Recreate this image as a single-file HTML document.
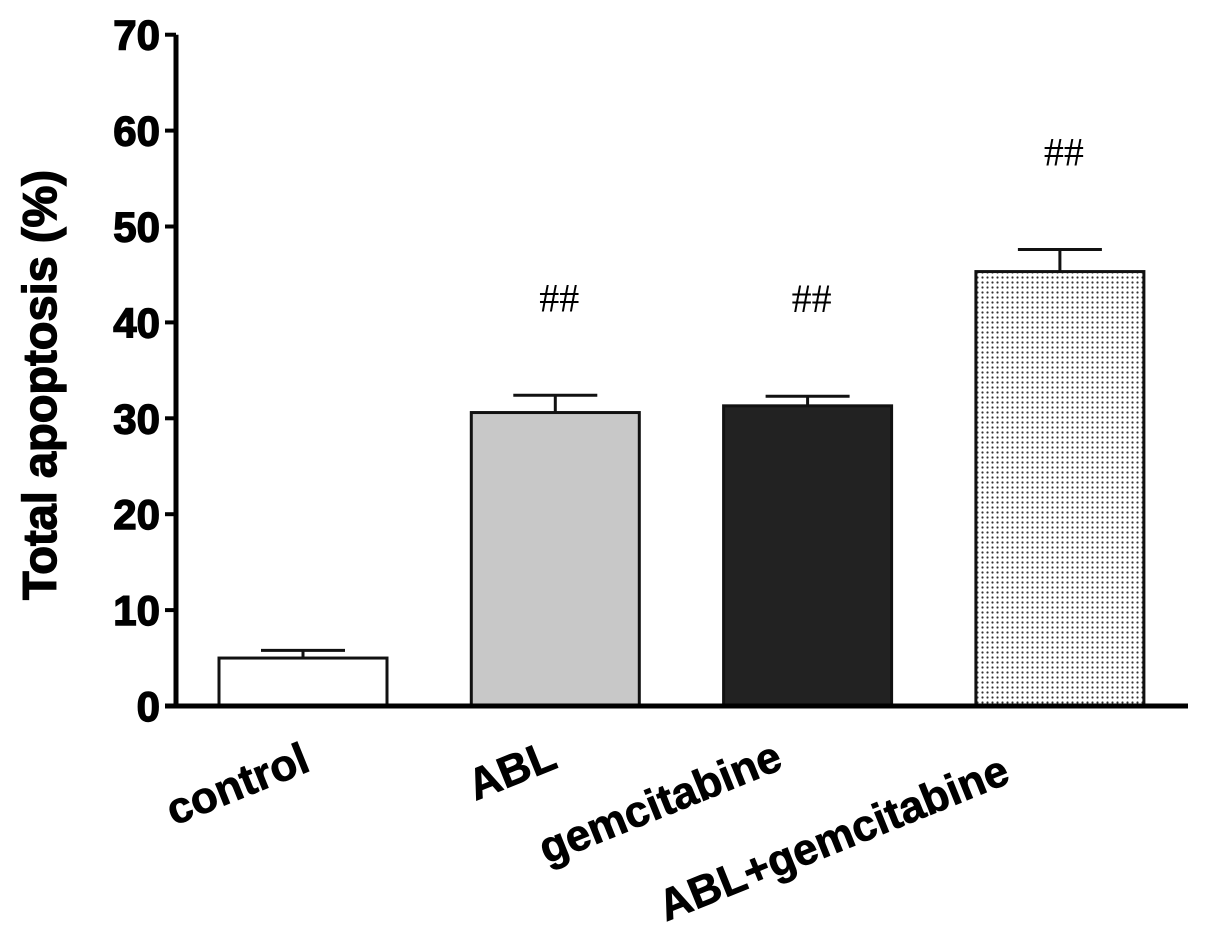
<!DOCTYPE html>
<html><head><meta charset="utf-8"><style>
html,body{margin:0;padding:0;background:#fff}
svg{display:block}
text{font-family:"Liberation Sans",Arial,sans-serif;font-weight:bold}
.heavy{stroke:#000;stroke-width:1.4px}
.lab{stroke:#000;stroke-width:0.8px}
</style></head><body>
<svg width="1205" height="940">
<defs><pattern id="dots" width="5" height="5" patternUnits="userSpaceOnUse"><rect width="5" height="5" fill="#fff"/><circle cx="2.5" cy="2.5" r="1.1" fill="#333"/></pattern></defs>
<g id="bars"></g>
<g id="axes"></g>
</svg>
<script>
const categories=["control","ABL","gemcitabine","ABL+gemcitabine"];
const values=[5.0,30.6,31.3,45.3];
const errors=[0.8,1.8,1.0,2.3];
const marks=["","##","##","##"];
const ticks=[0,10,20,30,40,50,60,70];
const fills=["#fff","#c8c8c8","#222","url(#dots)"];
const labelDx=[9,4,-23,-48];
const labelY=[770,767,768,782];
const NS="http://www.w3.org/2000/svg";
const svg=document.querySelector('svg');
const y=v=>706-v*9.59;
const xc=i=>303+i*252.3;
const bw=168;
function mk(t,a,p){const e=document.createElementNS(NS,t);for(const k in a)e.setAttribute(k,a[k]);(p||svg).appendChild(e);return e;}
const gb=document.getElementById('bars'),ga=document.getElementById('axes');
categories.forEach((c,i)=>{
 const top=y(values[i]),et=y(values[i]+errors[i]);
 const ln=mk('line',{x1:xc(i),x2:xc(i),y1:top,y2:et,stroke:'#111','stroke-width':3},gb);
 
 const cap=mk('line',{x1:xc(i)-42,x2:xc(i)+42,y1:et,y2:et,stroke:'#111','stroke-width':3},gb);
 
 const r=mk('rect',{x:xc(i)-bw/2,y:top,width:bw,height:706-top,fill:fills[i],stroke:'#111','stroke-width':3},gb);
 
 if(marks[i]){const m=mk('text',{x:xc(i)+4,y:et-84,'text-anchor':'middle','font-size':40},gb);
  m.style.fontFamily='"Liberation Serif",serif';m.style.fontWeight='normal';m.textContent=marks[i];
  }
 const lb=mk('text',{transform:`translate(${xc(i)+labelDx[i]},${labelY[i]}) rotate(-22)`,'text-anchor':'end','font-size':44,'class':'lab'},ga);
 lb.textContent=c;
});
const ya=mk('line',{x1:176,x2:176,y1:y(70),y2:708,stroke:'#000','stroke-width':5},ga);

const xa=mk('line',{x1:165,x2:1188,y1:706,y2:706,stroke:'#000','stroke-width':5},ga);

ticks.forEach(t=>{
 const tk=mk('line',{x1:165,x2:176,y1:y(t),y2:y(t),stroke:'#000','stroke-width':4},ga);
 
 const tl=mk('text',{x:160,y:y(t)+15,'text-anchor':'end','font-size':42,'class':'heavy'},ga);
 tl.textContent=t;
});
const tt=mk('text',{transform:'translate(56,385) rotate(-90)','text-anchor':'middle','font-size':47,'class':'heavy'},ga);
tt.textContent='Total apoptosis (%)';
</script>
</body></html>
